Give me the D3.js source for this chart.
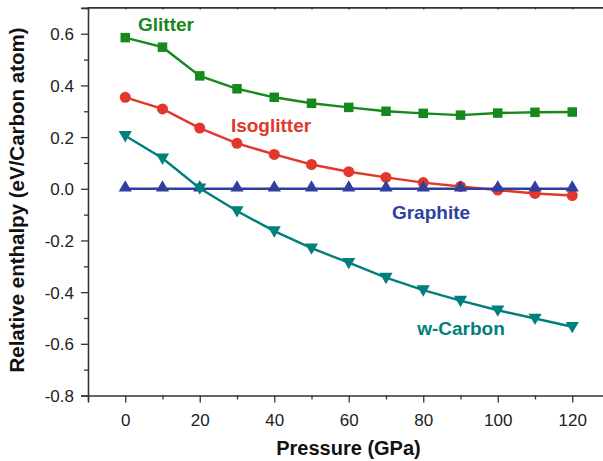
<!DOCTYPE html>
<html>
<head>
<meta charset="utf-8">
<script src="https://cdn.jsdelivr.net/npm/d3@7/dist/d3.min.js"></script>
<style>
  html, body { margin: 0; padding: 0; background: #fff; }
  svg { display: block; }
  text { font-family: "Liberation Sans", Arial, Helvetica, sans-serif; }
</style>
</head>
<body>
<svg id="chart" width="603" height="461"></svg>
<script>
// ---- data ----
const pressure = [0, 10, 20, 30, 40, 50, 60, 70, 80, 90, 100, 110, 120];
const glitter    = [0.585, 0.548, 0.437, 0.387, 0.354, 0.331, 0.315, 0.300, 0.292, 0.285, 0.293, 0.296, 0.297];
const isoglitter = [0.354, 0.309, 0.235, 0.176, 0.133, 0.094, 0.066, 0.044, 0.024, 0.009, -0.005, -0.018, -0.026];
const graphite   = [0, 0, 0, 0, 0, 0, 0, 0, 0, 0, 0, 0, 0];
const wcarbon    = [0.205, 0.118, 0.002, -0.086, -0.164, -0.230, -0.286, -0.344, -0.392, -0.433, -0.470, -0.502, -0.534];
const xMajorTicks = [0, 20, 40, 60, 80, 100, 120];
const xMinorTicks = [-10, 10, 30, 50, 70, 90, 110, 130];
const yMajorTicks = [-0.8, -0.6, -0.4, -0.2, 0.0, 0.2, 0.4, 0.6];
const yMinorTicks = [-0.7, -0.5, -0.3, -0.1, 0.1, 0.3, 0.5, 0.7];
const seriesNames = ["Isoglitter", "Graphite", "w-Carbon", "Glitter"];

(function () {
const svg = d3.select("#chart");
const mLeft = 88, mTop = 7.9, mBottom = 395.5;
const x = d3.scaleLinear().domain([-10, 130]).range([mLeft, 609.5]);
const y = d3.scaleLinear().domain([-0.8, 0.7]).range([mBottom, mTop]);

const axisColor = "#333";
const yFmt = d => d3.format(".1f")(d).replace("\u2212", "-");

// Bottom axis
const gx = svg.append("g").attr("transform", `translate(0,${mBottom})`);
gx.call(d3.axisBottom(x).tickValues(xMajorTicks).tickSize(7).tickFormat(d3.format("d")));
const gxm = svg.append("g").attr("transform", `translate(0,${mBottom})`);
gxm.call(d3.axisBottom(x).tickValues(xMinorTicks).tickSize(4).tickFormat(""));
// Top axis (inward ticks)
const gt = svg.append("g").attr("transform", `translate(0,${mTop - 0.5})`);
gt.call(d3.axisTop(x).tickValues(xMajorTicks.concat(xMinorTicks)).tickSize(-2).tickFormat(""));
// Left axis
const gy = svg.append("g").attr("transform", `translate(${mLeft},0)`);
gy.call(d3.axisLeft(y).tickValues(yMajorTicks).tickSize(7).tickFormat(yFmt));
const gym = svg.append("g").attr("transform", `translate(${mLeft},0)`);
gym.call(d3.axisLeft(y).tickValues(yMinorTicks).tickSize(4).tickFormat(""));

[gx, gxm, gt, gy, gym].forEach(g => {
  g.select(".domain").attr("stroke", axisColor).attr("stroke-width", 1.6);
  g.selectAll(".tick line").attr("stroke", axisColor).attr("stroke-width", 1.3);
  g.selectAll(".tick text").attr("fill", "#222").style("font-size", "17px")
    .style("font-family", '"Liberation Sans", Arial, sans-serif');
});
gx.selectAll(".tick text").attr("dy", "0").attr("y", 30);
gy.selectAll(".tick text").attr("x", -14).attr("dy", "0.36em");
gxm.select(".domain").remove();
gym.select(".domain").remove();

// Axis titles
svg.append("text").attr("x", 348.5).attr("y", 455).attr("text-anchor", "middle")
  .style("font-size", "20px").style("font-weight", "bold").attr("fill", "#111")
  .text("Pressure (GPa)");
svg.append("text").attr("transform", "translate(24,200) rotate(-90)").attr("text-anchor", "middle")
  .style("font-size", "20.5px").style("font-weight", "bold").attr("fill", "#111")
  .text("Relative enthalpy (eV/Carbon atom)");

// Series
const colors = { "Glitter": "#15891c", "Isoglitter": "#e2372b", "Graphite": "#2e3f9e", "w-Carbon": "#00807c" };
const dataMap = { "Glitter": glitter, "Isoglitter": isoglitter, "Graphite": graphite, "w-Carbon": wcarbon };
const line = d3.line().x(d => x(d[0])).y(d => y(d[1]));

seriesNames.forEach(name => {
  const pts = pressure.map((p, i) => [p, dataMap[name][i]]);
  const c = colors[name];
  const g = svg.append("g");
  g.append("path").datum(pts).attr("d", line).attr("fill", "none")
    .attr("stroke", c).attr("stroke-width", 2.4);
  let sym;
  if (name === "Glitter") sym = d3.symbol().type(d3.symbolSquare).size(90);
  else if (name === "Isoglitter") sym = d3.symbol().type(d3.symbolCircle).size(95);
  else sym = d3.symbol().type(d3.symbolTriangle).size(75);
  g.selectAll("path.m").data(pts).enter().append("path").attr("class", "m")
    .attr("d", sym)
    .attr("transform", d => `translate(${x(d[0])},${y(d[1]) + (name === "w-Carbon" ? -1 : name === "Graphite" ? -1 : 0)})` + (name === "w-Carbon" ? " rotate(180)" : ""))
    .attr("fill", c);
});

// Labels
const labels = [
  { name: "Glitter", lx: 166, ly: 31 },
  { name: "Isoglitter", lx: 271, ly: 131.5 },
  { name: "Graphite", lx: 431, ly: 218.5 },
  { name: "w-Carbon", lx: 461, ly: 335 }
];
labels.forEach(l => {
  svg.append("text").attr("x", l.lx).attr("y", l.ly).attr("text-anchor", "middle")
    .style("font-size", "19px").style("font-weight", "bold").attr("fill", colors[l.name])
    .text(l.name);
});
})();
</script>
</body>
</html>
